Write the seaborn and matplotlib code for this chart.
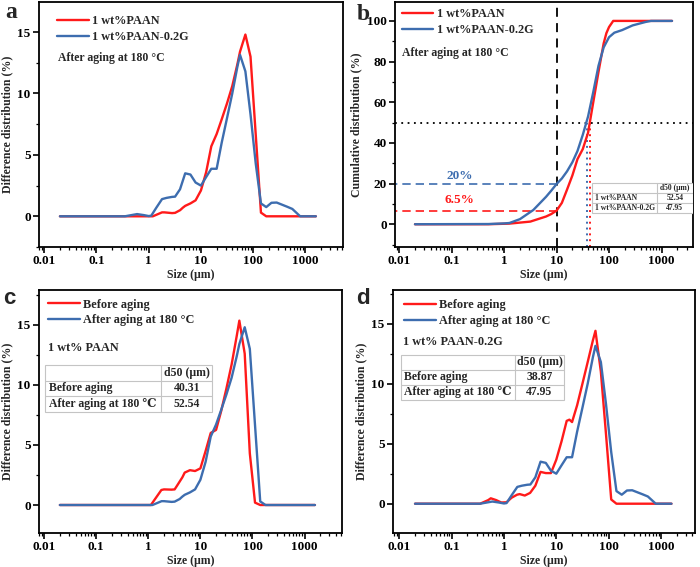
import numpy as np
import pandas as pd
import matplotlib
matplotlib.use("Agg")
import matplotlib.pyplot as plt
from matplotlib.patches import Rectangle
from matplotlib.ticker import AutoMinorLocator, FixedLocator, FixedFormatter
import seaborn as sns

# ---------------- data ----------------
# 1 wt% PAAN, after aging at 180 C  (difference distribution, %)
paan_after_size = [0.02, 1.2, 1.8, 2.0, 2.8, 3.2, 4.0, 4.5, 5.0, 6.3, 7.9, 10, 12.6, 15.8, 20, 25, 31.6,
                   39.8, 50, 56, 63, 71, 89, 141, 178, 1585]
paan_after_val = [0, 0, 0.32, 0.32, 0.26, 0.28, 0.5, 0.7, 0.85, 1.05, 1.3, 2.1, 3.6, 5.7, 6.7, 7.9, 9.2,
                  10.6, 12.4, 13.4, 14.1, 14.8, 13.0, 0.3, 0, 0]

# 1 wt% PAAN, before aging
paan_before_size = [0.02, 1.12, 1.78, 2.0, 2.8, 3.2, 3.55, 4.5, 5.0, 6.3, 7.9, 10, 12.6, 15.8, 20, 25,
                    31.6, 39.8, 50, 56, 71, 89, 112, 141, 1585]
paan_before_val = [0, 0, 1.25, 1.3, 1.28, 1.3, 1.6, 2.3, 2.7, 2.9, 2.83, 3.05, 4.5, 6.0, 6.25, 7.8,
                   9.7, 11.7, 14.1, 15.35, 12.6, 4.3, 0.2, 0, 0]

# 1 wt% PAAN-0.2G, after aging at 180 C
g_after_size = [0.02, 0.35, 0.5, 0.6, 0.8, 1.0, 1.12, 1.4, 1.8, 2.2, 2.8, 3.2, 3.98, 5.0, 6.3, 7.9, 10,
                12.6, 15.8, 20, 25, 31.6, 39.8, 50, 56, 71, 89, 112, 141, 178, 224, 282, 355, 447,
                562, 794, 1585]
g_after_val = [0, 0, 0.12, 0.18, 0.1, 0.02, 0.05, 0.7, 1.4, 1.5, 1.58, 1.6, 2.2, 3.5, 3.4, 2.75, 2.5,
               3.2, 3.87, 3.87, 6.0, 8.0, 10.0, 12.2, 13.15, 11.8, 8.3, 4.3, 1.05, 0.75, 1.1, 1.12,
               0.95, 0.78, 0.6, 0, 0]

# 1 wt% PAAN-0.2G, before aging
g_before_size = [0.02, 0.35, 0.5, 0.56, 0.71, 0.89, 1.12, 1.4, 1.78, 2.0, 2.5, 3.16, 3.98, 5.0, 6.3,
                 7.9, 10, 12.6, 15.8, 17.8, 20, 25, 31.6, 39.8, 50, 56, 71, 89, 112, 141, 1585]
g_before_val = [0, 0, 0.3, 0.45, 0.3, 0.1, 0.12, 0.5, 0.75, 0.8, 0.68, 0.9, 1.5, 2.65, 2.55,
                2.55, 3.67, 5.2, 6.9, 7.0, 6.8, 8.2, 10.0, 11.8, 13.6, 14.4, 11.0, 5.8, 0.35, 0, 0]

# cumulative distributions after aging (%)
cum_paan_size = [0.02, 0.5, 1.26, 2.0, 3.16, 6.3, 7.9, 10, 12.6, 15.8, 20, 25, 31.6, 39.8, 50, 63,
                 79, 89, 100, 120, 1585]
cum_paan_val = [0, 0, 0.3, 0.8, 1.3, 3.8, 5.0, 6.7, 10.5, 17, 24, 32, 37, 45, 60, 75,
                89, 94, 97, 100, 100]
cum_g_size = [0.02, 0.5, 1.0, 1.26, 2.0, 3.6, 6.3, 7.9, 10, 12.6, 15.8, 20, 25, 31.6, 39.8, 50, 63,
              79, 100, 126, 178, 282, 500, 631, 1585]
cum_g_val = [0, 0.1, 0.4, 0.6, 2.5, 7, 13.5, 16.5, 19.8, 22.5, 26, 30.5, 36, 44, 53, 65, 78,
             87, 92, 94.2, 95.5, 97.8, 99.5, 100, 100]

d50_cross_paan = 43.5
d50_cross_g = 38.6
frac_paan_10 = 6.5
frac_g_10 = 20

table_b = [["", "d50 (\u03bcm)"], ["1 wt%PAAN", "52.54"], ["1 wt%PAAN-0.2G", "47.95"]]
table_c = [["", "d50 (\u03bcm)"], ["Before aging", "40.31"], ["After aging at 180 \u2103", "52.54"]]
table_d = [["", "d50 (\u03bcm)"], ["Before aging", "38.87"], ["After aging at 180 \u2103", "47.95"]]

x_ticks = [0.01, 0.1, 1, 10, 100, 1000]
x_tick_labels = ["0.01", "0.1", "1", "10", "100", "1000"]

RED = "#FF1A1A"
BLUE = "#3D6DAF"

# ---------------- style ----------------
sns.set_style("ticks")
plt.rcParams['font.family'] = ['Liberation Serif', 'DejaVu Serif']
plt.rcParams['font.weight'] = 'bold'
plt.rcParams['axes.labelweight'] = 'bold'
plt.rcParams['axes.linewidth'] = 1.3
plt.rcParams['axes.edgecolor'] = 'black'
plt.rcParams['xtick.color'] = 'black'
plt.rcParams['ytick.color'] = 'black'

fig = plt.figure(figsize=(7, 5.67), dpi=100)


def px_axes(l, t, r, b):
    return fig.add_axes([l / 700, 1 - b / 567, (r - l) / 700, (b - t) / 567])


def style_axes(ax, xlim, ylim, yticks, ylabel, minor_y):
    ax.set_xscale('log')
    ax.set_xlim(*xlim)
    ax.set_ylim(*ylim)
    ax.xaxis.set_major_locator(FixedLocator(x_ticks))
    ax.xaxis.set_major_formatter(FixedFormatter(x_tick_labels))
    ax.set_yticks(yticks)
    ax.yaxis.set_minor_locator(AutoMinorLocator(minor_y))
    ax.tick_params(axis='both', which='major', direction='out', length=4, width=1.2, labelsize=9.5, pad=2)
    ax.tick_params(axis='both', which='minor', direction='out', length=2.2, width=0.9)
    ax.set_xlabel("Size (\u03bcm)", fontsize=8.5, labelpad=1)
    ax.set_ylabel(ylabel, fontsize=8.5, labelpad=3)
    for s in ax.spines.values():
        s.set_visible(True)
        s.set_linewidth(1.3)


def draw_line(ax, xs, ys, color, label):
    df = pd.DataFrame({"size": xs, "value": ys})
    sns.lineplot(data=df, x="size", y="value", ax=ax, color=color, lw=1.7,
                 estimator=None, sort=False, label=label)


def legend(ax, x, y):
    ax.legend(loc='upper left', bbox_to_anchor=(x, y), frameon=False, borderpad=0,
              borderaxespad=0, handlelength=2.6, handletextpad=0.3, labelspacing=0.3,
              prop=dict(weight='bold', size=8.8, family=['Liberation Serif', 'DejaVu Serif']))


def draw_table(ax, x0, y0, x1, y1, split, rows, fs, pad=0.012):
    h = (y1 - y0) / len(rows)
    ax.add_patch(Rectangle((x0, y0), x1 - x0, y1 - y0, transform=ax.transAxes,
                           facecolor='white', edgecolor='#c4c4c4', lw=0.8, zorder=5))
    xs = x0 + split * (x1 - x0)
    ax.plot([xs, xs], [y0, y1], transform=ax.transAxes, color='#c4c4c4', lw=0.8, zorder=6)
    for i in range(1, len(rows)):
        yy = y1 - i * h
        ax.plot([x0, x1], [yy, yy], transform=ax.transAxes, color='#c4c4c4', lw=0.8, zorder=6)
    for i, (c1, c2) in enumerate(rows):
        yc = y1 - (i + 0.5) * h
        ax.text(x0 + pad, yc, c1, transform=ax.transAxes, ha='left', va='center',
                fontsize=fs, weight='bold', zorder=7, family=['Liberation Serif', 'DejaVu Serif'])
        ax.text((xs + x1) / 2, yc, c2, transform=ax.transAxes, ha='center', va='center',
                fontsize=fs, weight='bold', zorder=7, family=['Liberation Serif', 'DejaVu Serif'])


# ---------------- panel a ----------------
ax_a = px_axes(39, 2, 343, 247)
draw_line(ax_a, paan_after_size, paan_after_val, RED, "1 wt%PAAN")
draw_line(ax_a, g_after_size, g_after_val, BLUE, "1 wt%PAAN-0.2G")
style_axes(ax_a, (10 ** -2.1, 10 ** 3.72), (-2.5, 17.45), [0, 5, 10, 15],
           "Difference distribution (%)", 2)
legend(ax_a, 0.059, 0.945)
ax_a.text(0.0625, 0.773, "After aging at 180 \u00b0C", transform=ax_a.transAxes,
          fontsize=8.5, weight='bold', va='center')

# ---------------- panel b ----------------
ax_b = px_axes(395, 2, 693, 247)
ylim_b = (-11.2, 109.3)
ax_b.axvline(10, color='black', ls=(0, (5, 3.5)), lw=1.3, zorder=1)
ax_b.axhline(50, color='black', ls=(0, (1, 2.5)), lw=1.3, zorder=1)
ax_b.plot([10 ** -2.2, 10], [frac_g_10, frac_g_10], color=BLUE, ls=(0, (5, 3)), lw=1.2, zorder=1)
ax_b.plot([10 ** -2.2, 10], [frac_paan_10, frac_paan_10], color=RED, ls=(0, (5, 3)), lw=1.2, zorder=1)
ax_b.plot([d50_cross_g, d50_cross_g], [ylim_b[0], 50], color=BLUE, ls=(0, (1, 2)), lw=1.4, zorder=1)
ax_b.plot([d50_cross_paan, d50_cross_paan], [ylim_b[0], 50], color=RED, ls=(0, (1, 2)), lw=1.4, zorder=1)
draw_line(ax_b, cum_paan_size, cum_paan_val, RED, "1 wt%PAAN")
draw_line(ax_b, cum_g_size, cum_g_val, BLUE, "1 wt%PAAN-0.2G")
style_axes(ax_b, (10 ** -2.08, 10 ** 3.6), ylim_b, [0, 20, 40, 60, 80, 100],
           "Cumulative distribution (%)", 2)
legend(ax_b, 0.0225, 0.975)
ax_b.text(0.0225, 0.792, "After aging at 180 \u00b0C", transform=ax_b.transAxes,
          fontsize=8.5, weight='bold', va='center')
ax_b.text(0.14, 23.5, "20%", color=BLUE, ha='center', va='center', fontsize=9.5, weight='bold')
ax_b.text(0.14, 11.8, "6.5%", color=RED, ha='center', va='center', fontsize=9.5, weight='bold')
draw_table(ax_b, 0.66, 0.138, 1.0, 0.262, 0.64, table_b, 5.5, pad=0.01)

# ---------------- panel c ----------------
ax_c = px_axes(39, 290, 342, 533)
draw_line(ax_c, paan_before_size, paan_before_val, RED, "Before aging")
draw_line(ax_c, paan_after_size, paan_after_val, BLUE, "After aging at 180 \u00b0C")
style_axes(ax_c, (10 ** -2.1, 10 ** 3.72), (-2.33, 17.9), [0, 5, 10, 15],
           "Difference distribution (%)", 2)
legend(ax_c, 0.029, 0.965)
ax_c.text(0.03, 0.761, "1 wt% PAAN", transform=ax_c.transAxes, fontsize=8.8, weight='bold', va='center')
draw_table(ax_c, 0.02, 0.499, 0.572, 0.691, 0.695, table_c, 8.5)

# ---------------- panel d ----------------
ax_d = px_axes(393, 290, 695, 533)
draw_line(ax_d, g_before_size, g_before_val, RED, "Before aging")
draw_line(ax_d, g_after_size, g_after_val, BLUE, "After aging at 180 \u00b0C")
style_axes(ax_d, (10 ** -2.12, 10 ** 3.65), (-2.44, 17.8), [0, 5, 10, 15],
           "Difference distribution (%)", 2)
legend(ax_d, 0.036, 0.962)
ax_d.text(0.034, 0.787, "1 wt% PAAN-0.2G", transform=ax_d.transAxes, fontsize=8.8, weight='bold', va='center')
draw_table(ax_d, 0.0255, 0.548, 0.566, 0.733, 0.70, table_d, 8.5)

# ---------------- panel letters ----------------
fig.text(11 / 700, 1 - 13 / 567, "a", fontsize=17, weight='bold', ha='center', va='center',
         family=['Liberation Serif'])
fig.text(363 / 700, 1 - 14 / 567, "b", fontsize=17, weight='bold', ha='center', va='center',
         family=['Liberation Serif'])
fig.text(9 / 700, 1 - 299 / 567, "c", fontsize=16, weight='bold', ha='center', va='center',
         family=['Liberation Sans'])
fig.text(363 / 700, 1 - 298 / 567, "d", fontsize=16, weight='bold', ha='center', va='center',
         family=['Liberation Sans'])

fig.savefig("out.png", dpi=100)
